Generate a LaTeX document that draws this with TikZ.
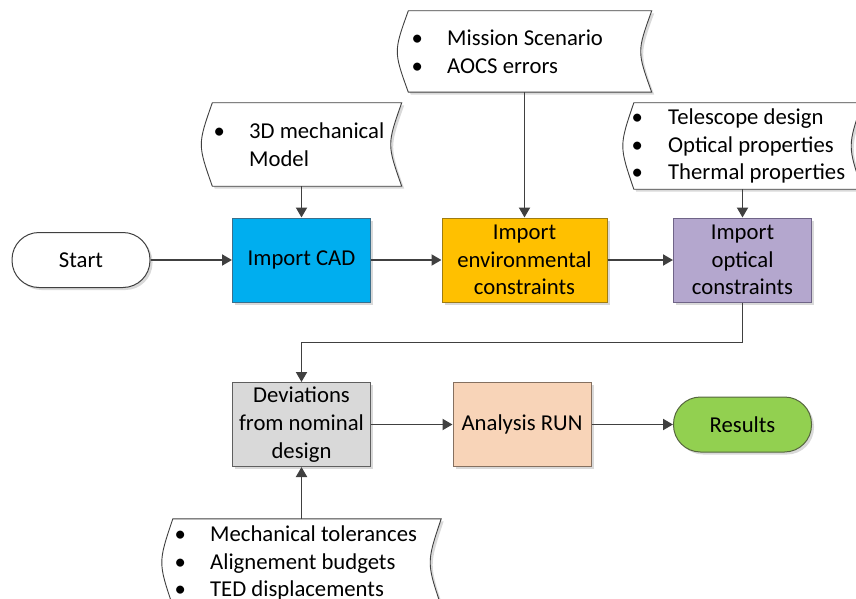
\documentclass[tikz,border=0pt]{standalone}
\usepackage{fontspec}
\setmainfont{Carlito}
\usetikzlibrary{arrows.meta,shadows}
\definecolor{cblue}{HTML}{00AEEF}
\definecolor{cbluel}{HTML}{3A6F8C}
\definecolor{cgold}{HTML}{FFC000}
\definecolor{cgoldl}{HTML}{9E7C12}
\definecolor{cpurp}{HTML}{B4A7CE}
\definecolor{cpurpl}{HTML}{6F6487}
\definecolor{cgray}{HTML}{D9D9D9}
\definecolor{cgrayl}{HTML}{5F5F5F}
\definecolor{cpeach}{HTML}{F8D4B8}
\definecolor{cpeachl}{HTML}{857060}
\definecolor{cgreen}{HTML}{92D050}
\definecolor{cgreenl}{HTML}{56663F}
\definecolor{cline}{HTML}{404040}
\newcommand{\docshape}[1]{%
  \path[docline] ([xshift=11pt]#1.north west) -- (#1.north east)
    .. controls ([xshift=-14.67pt]#1.east) .. (#1.south east)
    -- ([xshift=11pt]#1.south west)
    .. controls ([xshift=-3.67pt]#1.west) .. ([xshift=11pt]#1.north west) -- cycle;}
\begin{document}
\begin{tikzpicture}[x=1pt,y=-1pt,
  every node/.style={font=\fontsize{22.7}{27.7}\selectfont, inner sep=0pt},
  shad/.style={drop shadow={shadow xshift=2.5pt,shadow yshift=-2.5pt,fill=black,opacity=0.15}},
  proc/.style={rectangle, minimum width=138pt, minimum height=84pt, align=center, line width=1pt, shad},
  term/.style={rectangle, rounded corners=27pt, minimum width=138pt, minimum height=55pt, line width=1pt, shad},
  docbox/.style={rectangle},
  docline/.style={draw=cline, fill=white, line width=0.9pt, shad},
  doctext/.style={anchor=west, align=left},
  conn/.style={draw=cline, line width=1.9pt, -{Triangle[length=10pt,width=11pt]}}]
\clip (0,0) rectangle (856,599);
% documents
\node[docbox, minimum width=200pt, minimum height=83pt] (d3d) at (301.5,144.5) {};
\docshape{d3d}
\node[doctext] (d3dt) at (219,145) {\makebox[0pt][c]{\textbullet}\hspace{30pt}3D mechanical\\\hspace{30pt}Model};
\node[docbox, minimum width=254pt, minimum height=81pt] (dmis) at (524.5,51.5) {};
\docshape{dmis}
\node[doctext] (dmist) at (417,52) {\makebox[0pt][c]{\textbullet}\hspace{30pt}Mission Scenario\\\makebox[0pt][c]{\textbullet}\hspace{30pt}AOCS errors};
\node[docbox, minimum width=239pt, minimum height=86pt] (dtel) at (742.5,146) {};
\docshape{dtel}
\node[doctext] (dtelt) at (637,146) {\makebox[0pt][c]{\textbullet}\hspace{31pt}Telescope design\\\makebox[0pt][c]{\textbullet}\hspace{31pt}Optical properties\\\makebox[0pt][c]{\textbullet}\hspace{31pt}Thermal properties};
\node[docbox, minimum width=279pt, minimum height=87pt] (dbot) at (301.5,562.5) {};
\docshape{dbot}
\node[doctext] (dbott) at (180,563) {\makebox[0pt][c]{\textbullet}\hspace{30pt}Mechanical tolerances\\\makebox[0pt][c]{\textbullet}\hspace{30pt}Alignement budgets\\\makebox[0pt][c]{\textbullet}\hspace{30pt}TED displacements};
% process nodes
\node[term, draw=cline, fill=white] (start) at (81,260) {Start};
\node[proc, draw=cbluel, fill=cblue] (cad) at (301.5,260) {Import CAD};
\node[proc, draw=cgoldl, fill=cgold, minimum width=165pt] (env) at (524.5,260) {Import\\environmental\\constraints};
\node[proc, draw=cpurpl, fill=cpurp] (opt) at (742.5,260) {Import\\optical\\constraints};
\node[proc, draw=cgrayl, fill=cgray] (dev) at (301.5,424.5) {Deviations\\from nominal\\design};
\node[proc, draw=cpeachl, fill=cpeach] (ana) at (522,424.5) {Analysis RUN};
\node[term, draw=cgreenl, fill=cgreen] (res) at (742.5,424.5) {Results};
% connectors
\draw[conn] (start) -- (cad);
\draw[conn] (cad) -- (env);
\draw[conn] (env) -- (opt);
\draw[conn] (d3d.south) -- (cad.north);
\draw[conn] (dmis.south) -- (env.north);
\draw[conn] (dtel.south) -- (opt.north);
\draw[conn] (opt.south) -- ++(0,40) -| (dev.north);
\draw[conn] (dbot.north) -- (dev.south);
\draw[conn] (dev) -- (ana);
\draw[conn] (ana) -- (res);
\end{tikzpicture}
\end{document}
